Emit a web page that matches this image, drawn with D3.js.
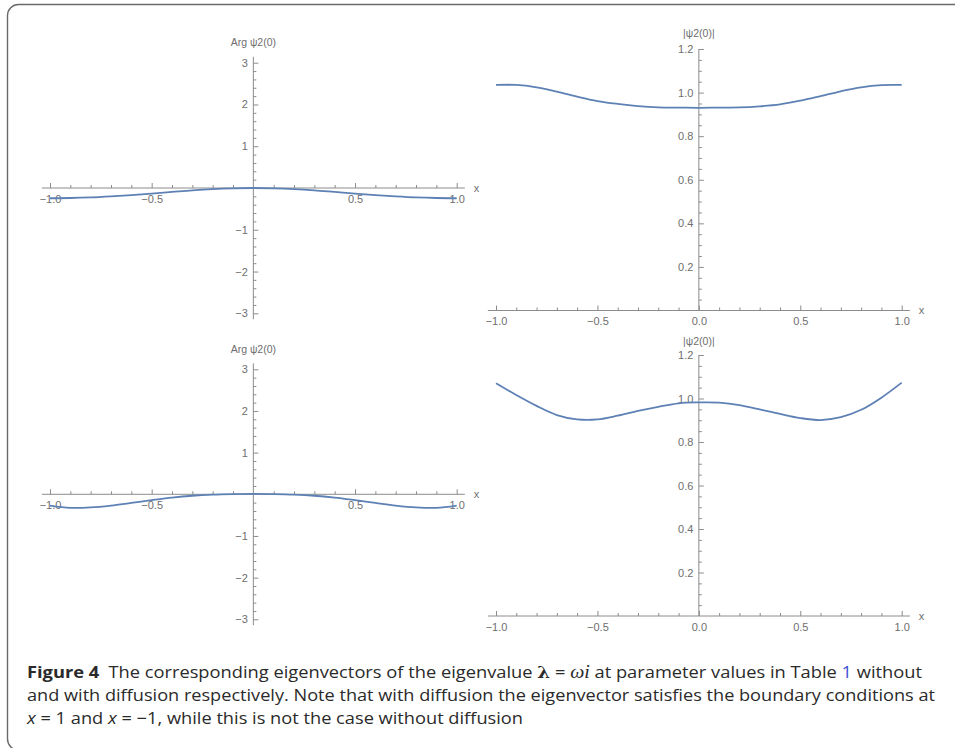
<!DOCTYPE html>
<html><head><meta charset="utf-8">
<script src="https://cdn.jsdelivr.net/npm/d3@7"></script>
<style>body{margin:0;background:#fff}</style>
</head><body>
<svg id="c" width="955" height="748"></svg>
<script>
// ---------- data ----------
const xs = [-1,-0.9,-0.8,-0.7,-0.6,-0.5,-0.4,-0.3,-0.2,-0.1,0,0.1,0.2,0.3,0.4,0.5,0.6,0.7,0.8,0.9,1];
const argNoDiff = [-0.245,-0.24,-0.225,-0.2,-0.17,-0.135,-0.095,-0.055,-0.025,-0.007,0,-0.007,-0.025,-0.055,-0.095,-0.135,-0.17,-0.2,-0.225,-0.24,-0.245];
const absNoDiff = [1.035,1.035,1.024,1.004,0.981,0.961,0.948,0.938,0.932,0.931,0.930,0.931,0.932,0.937,0.946,0.963,0.984,1.006,1.024,1.034,1.035];
const argDiff = [-0.27,-0.325,-0.315,-0.27,-0.205,-0.14,-0.08,-0.035,-0.008,0.005,0.01,0.005,-0.008,-0.035,-0.08,-0.14,-0.205,-0.27,-0.315,-0.325,-0.27];
const absDiff = [1.070,1.016,0.966,0.924,0.904,0.904,0.921,0.943,0.962,0.978,0.982,0.981,0.970,0.950,0.929,0.910,0.901,0.914,0.948,1.004,1.073];

const xMajor = [-1,-0.5,0.5,1];
const xMajorLabels = ["\u22121.0","\u22120.5","0.5","1.0"];
const xMajorAbs = [-1,-0.5,0,0.5,1];
const xMajorAbsLabels = ["\u22121.0","\u22120.5","0.0","0.5","1.0"];
const xMinor = [-0.9,-0.8,-0.7,-0.6,-0.4,-0.3,-0.2,-0.1,0.1,0.2,0.3,0.4,0.6,0.7,0.8,0.9];
const argMajor = [-3,-2,-1,1,2,3];
const argMajorLabels = ["\u22123","\u22122","\u22121","1","2","3"];
const absMajor = [0.2,0.4,0.6,0.8,1.0,1.2];
const absMajorLabels = ["0.2","0.4","0.6","0.8","1.0","1.2"];
const argLabel = "Arg \u03c82(0)";
const absLabel = "|\u03c82(0)|";

// ---------- drawing ----------
const svg = d3.select("#c");
const AX = "#8c8c8c", TXT = "#6e6e6e", CURVE = "#5e81b5";
const FONT = "'Liberation Sans', Arial, sans-serif";

// frame
svg.append("rect").attr("x",7.5).attr("y",4.5).attr("width",990).attr("height",745.5)
  .attr("rx",11).attr("fill","none").attr("stroke","#6a6a6a").attr("stroke-width",1.4);

function range(a,b,s){const r=[];for(let v=a;v<=b+1e-9;v+=s){r.push(Math.round(v*1000)/1000);}return r;}

const panels = [
  {vals:argNoDiff, xr:[50,456.7], yr:[313.3,62.7], yd:[-3,3], ext:[-Math.PI,Math.PI], type:"arg", lab:argLabel, labY:46},
  {vals:absNoDiff, xr:[496,901.7], yr:[310.5,49], yd:[0,1.2], ext:[0,1.2], type:"abs", lab:absLabel, labY:37},
  {vals:argDiff, xr:[50,456.7], yr:[619.3,369.3], yd:[-3,3], ext:[-Math.PI,Math.PI], type:"arg", lab:argLabel, labY:353},
  {vals:absDiff, xr:[496,901.7], yr:[616,355], yd:[0,1.2], ext:[0,1.2], type:"abs", lab:absLabel, labY:344.5}
];

panels.forEach(p=>{
  const x = d3.scaleLinear().domain([-1,1]).range(p.xr);
  const y = d3.scaleLinear().domain(p.yd).range(p.yr);
  const g = svg.append("g");
  const y0 = y(0), x0 = x(0);

  g.append("line").attr("x1",x(-1.04)).attr("x2",x(1.04)).attr("y1",y0).attr("y2",y0)
    .attr("stroke",AX).attr("stroke-width",1);
  g.append("line").attr("x1",x0).attr("x2",x0).attr("y1",y(p.ext[0])).attr("y2",y(p.ext[1]))
    .attr("stroke",AX).attr("stroke-width",1);

  const isArg = p.type==="arg";
  const xm = isArg ? xMajor : xMajorAbs;
  const xml = isArg ? xMajorLabels : xMajorAbsLabels;

  const axM = d3.axisBottom(x).tickValues(xm).tickSize(-5).tickPadding(7)
    .tickFormat((d,i)=>xml[i]);
  const gx = g.append("g").attr("transform",`translate(0,${y0})`).call(axM);
  const axm = d3.axisBottom(x).tickValues(xMinor).tickSize(-3).tickFormat("");
  const gxm = g.append("g").attr("transform",`translate(0,${y0})`).call(axm);

  const ym = isArg ? argMajor : absMajor;
  const yml = isArg ? argMajorLabels : absMajorLabels;
  const yMinor = isArg ? range(-3,3,0.2).filter(v=>Math.abs(v-Math.round(v))>1e-6)
                       : range(0.05,1.15,0.05).filter(v=>Math.abs(v*5-Math.round(v*5))>1e-6);
  const ayM = d3.axisLeft(y).tickValues(ym).tickSize(-5).tickPadding(5.5)
    .tickFormat((d,i)=>yml[i]);
  const gy = g.append("g").attr("transform",`translate(${x0},0)`).call(ayM);
  const aym = d3.axisLeft(y).tickValues(yMinor).tickSize(-3).tickFormat("");
  const gym = g.append("g").attr("transform",`translate(${x0},0)`).call(aym);

  [gx,gxm,gy,gym].forEach(a=>{
    a.select(".domain").remove();
    a.selectAll("line").attr("stroke",AX);
    a.selectAll("text").attr("fill",TXT).style("font-family",FONT).style("font-size","11px");
  });

  g.append("text").attr("x",x(1.04)+9).attr("y",y0+3.5).text("x")
    .attr("fill",TXT).style("font-family",FONT).style("font-size","11px");
  g.append("text").attr("x",x0).attr("y",p.labY).attr("text-anchor","middle").text(p.lab)
    .attr("fill",TXT).style("font-family",FONT).style("font-size","10.5px");

  const line = d3.line().x((d,i)=>x(xs[i])).y(d=>y(d)).curve(d3.curveCatmullRom.alpha(0.5));
  g.append("path").attr("d",line(p.vals)).attr("fill","none").attr("stroke",CURVE).attr("stroke-width",1.8);
});

// ---------- caption ----------
const CF = "'Open Sans', 'Noto Sans', sans-serif";
const cap = svg.append("g").style("font-family",CF).style("font-size","16.5px").attr("fill","#2a2a2a");
const l1 = cap.append("text").attr("x",27).attr("y",678).attr("textLength",895).attr("lengthAdjust","spacingAndGlyphs");
l1.append("tspan").attr("font-weight","bold").text("Figure 4");
l1.append("tspan").text("\u2002The corresponding eigenvectors of the eigenvalue ");
l1.append("tspan").attr("font-weight","bold").style("font-family","'DejaVu Serif', serif").text("\u03bb");
l1.append("tspan").text(" = ");
l1.append("tspan").attr("font-style","italic").style("font-family","'Liberation Serif', serif").style("font-size","18px").text("\u03c9i");
l1.append("tspan").text(" at parameter values in Table ");
l1.append("tspan").attr("fill","#3a56d4").text("1");
l1.append("tspan").text(" without");

cap.append("text").attr("x",27).attr("y",701).attr("textLength",908).attr("lengthAdjust","spacingAndGlyphs")
  .text("and with diffusion respectively. Note that with diffusion the eigenvector satisfies the boundary conditions at");

const l3 = cap.append("text").attr("x",27).attr("y",724).attr("textLength",496).attr("lengthAdjust","spacingAndGlyphs");
l3.append("tspan").attr("font-style","italic").text("x");
l3.append("tspan").text(" = 1 and ");
l3.append("tspan").attr("font-style","italic").text("x");
l3.append("tspan").text(" = \u22121, while this is not the case without diffusion");
</script>
</body></html>
